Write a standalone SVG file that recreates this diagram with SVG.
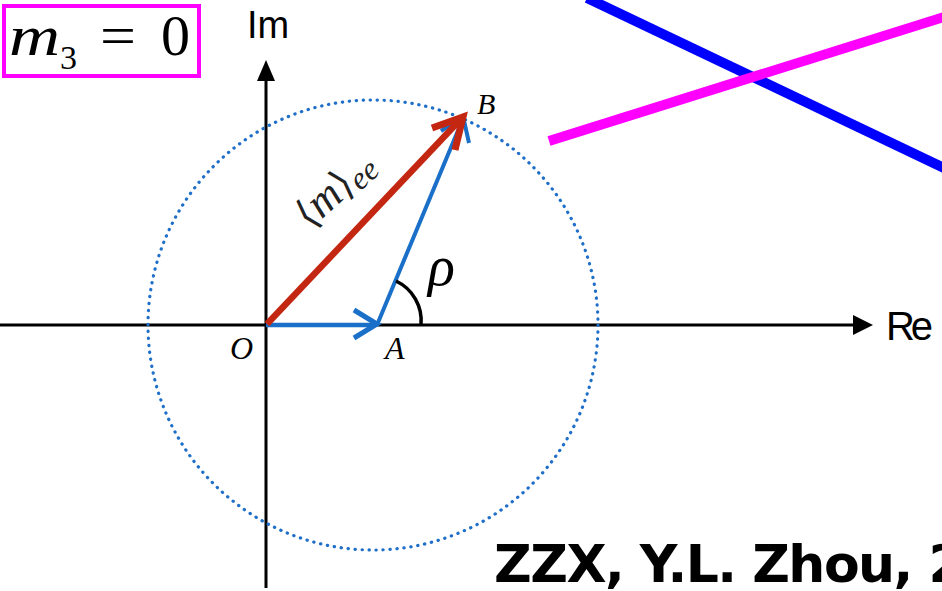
<svg xmlns="http://www.w3.org/2000/svg" width="942" height="591" viewBox="0 0 942 591">
<style>
.ax{stroke:#000;stroke-width:3;fill:none}
.lbl{font-family:"Liberation Serif",serif;font-style:italic;fill:#000}
.sans{font-family:"Liberation Sans",Arial,sans-serif;fill:#000}
.ser{font-family:"Liberation Serif",serif;fill:#000}
</style>
<rect width="942" height="591" fill="#fff"/>
<g id="lines">
<line x1="587" y1="-2" x2="944" y2="168" stroke="#0000ff" stroke-width="10"/>
<line x1="549" y1="141" x2="944" y2="17" stroke="#ff00ff" stroke-width="10"/>
</g>
<g id="box">
<rect x="4" y="6" width="195" height="70" fill="none" stroke="#ff00ff" stroke-width="4"/>
<text class="ser" font-style="italic" font-size="58" transform="translate(9,55) scale(1.22,1)">m</text>
<text class="ser" font-size="34" x="60" y="69">3</text>
<text class="ser" font-size="58" x="100" y="55" transform="translate(100,0) scale(1.1,1) translate(-100,0)">=</text>
<text class="ser" font-size="58" x="161" y="55">0</text>
</g>
<g id="axes">
<line class="ax" x1="0" y1="325" x2="856" y2="325"/>
<path d="M853,315 L873,325 L853,335 Z" fill="#000"/>
<line class="ax" x1="266" y1="588" x2="266" y2="78"/>
<path d="M257,81 L266,60 L275,81 Z" fill="#000"/>
<text class="sans" x="247" y="38" font-size="38">Im</text>
<text class="sans" x="886" y="340" font-size="40" textLength="47">Re</text>
</g>
<g id="circle">
<circle cx="373" cy="325" r="225" fill="none" stroke="#1f6fc9" stroke-width="3.2" stroke-dasharray="0.3 6.7" stroke-linecap="round"/>
</g>
<g id="connectors">
<line x1="377" y1="325" x2="462" y2="121" stroke="#1a6fc8" stroke-width="4"/>
<path d="M441,131 L463,116 L469,143" fill="none" stroke="#1a6fc8" stroke-width="4"/>
<line x1="266" y1="325" x2="373" y2="325" stroke="#1a6fc8" stroke-width="4.5"/>
<path d="M354,310 L377,324 L354,338" fill="none" stroke="#1a6fc8" stroke-width="5"/>
<line x1="267" y1="324" x2="459" y2="121" stroke="#c42711" stroke-width="6.5"/>
<path d="M432,128 L463,117 L455,150" fill="none" stroke="#c42711" stroke-width="7"/>
<path d="M396,281 A44,44 0 0 1 421,325" fill="none" stroke="#000" stroke-width="3.5"/>
</g>
<g id="labels">
<text class="lbl" x="230" y="359" font-size="32">O</text>
<text class="lbl" x="385" y="359" font-size="32">A</text>
<text class="lbl" x="477" y="114" font-size="30">B</text>
<text class="lbl" x="428" y="285" font-size="56">ρ</text>
<text font-family="'DejaVu Serif',serif" font-size="40" fill="#222" transform="translate(310,230) rotate(-42)">⟨<tspan font-family="'Liberation Serif',serif" font-style="italic" font-size="44">m</tspan>⟩<tspan font-family="'Liberation Serif',serif" font-style="italic" font-size="32" dy="5">ee</tspan></text>
</g>
<text x="494" y="582" font-family="'DejaVu Sans',Verdana,sans-serif" font-weight="bold" font-size="52" letter-spacing="-1.5">ZZX, Y.L. Zhou, 2</text>
</svg>
